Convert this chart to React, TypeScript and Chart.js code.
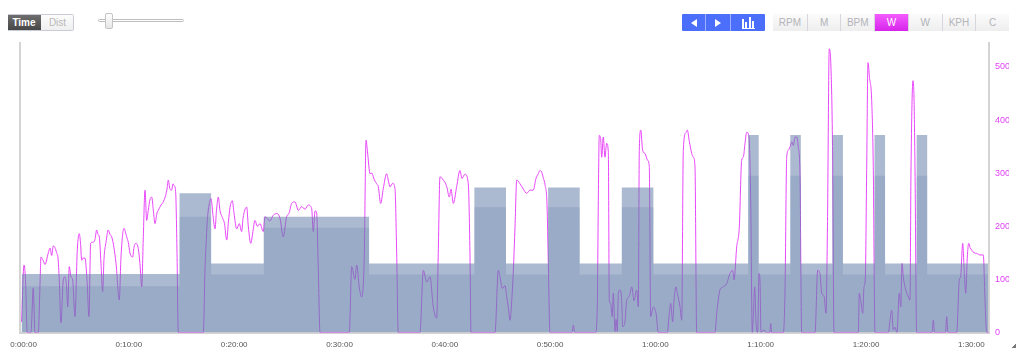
import React, { useEffect, useRef } from 'react';
import { Chart, registerables } from 'chart.js';

Chart.register(...registerables);

// Workout target intervals (minutes) and their target watt bands
const intervalStart = [0, 15, 18, 23, 33, 43, 46, 50, 53, 57, 60, 69, 70, 73, 74, 77, 78, 81, 82, 85, 86];
const intervalEnd = [15, 18, 23, 33, 43, 46, 50, 53, 57, 60, 69, 70, 73, 74, 77, 78, 81, 82, 85, 86, 91.8];
const targetHigh = [110, 262, 130, 218, 130, 273, 130, 273, 130, 273, 130, 372, 130, 372, 130, 372, 130, 372, 130, 372, 130];
const targetLow = [87, 218, 109, 197, 109, 236, 109, 236, 109, 236, 109, 295, 109, 295, 109, 295, 109, 295, 109, 295, 109];

// Recorded power (time in minutes, watts)
const powerMinutes = [
  0.0, 0.23, 0.37, 0.54, 0.89, 1.11, 1.27, 1.59, 1.75, 1.84, 2.06, 2.22, 2.54, 2.7, 2.86, 3.01, 3.17, 3.33, 3.46, 3.58,
  3.74, 3.96, 4.12, 4.28, 4.38, 4.53, 4.69, 4.85, 5.07, 5.29, 5.48, 5.59, 5.71, 5.83, 6.02, 6.21, 6.4, 6.56, 6.78, 6.97,
  7.13, 7.25, 7.38, 7.54, 7.7, 7.83, 8.02, 8.23, 8.39, 8.56, 8.77, 8.97, 9.28, 9.44, 9.72, 9.98, 10.13, 10.29, 10.55, 10.67,
  10.86, 11.08, 11.24, 11.41, 11.56, 11.72, 11.88, 12.03, 12.19, 12.36, 12.51, 12.67, 12.86, 12.98, 13.24, 13.43, 13.68, 13.81, 13.93, 14.09,
  14.25, 14.38, 14.47, 14.63, 14.76, 14.88, 17.26, 17.42, 17.51, 17.64, 17.8, 17.99, 18.18, 18.37, 18.51, 18.68, 18.84, 19.1, 19.27, 19.48,
  19.65, 19.79, 20.01, 20.17, 20.43, 20.67, 20.9, 21.03, 21.38, 21.53, 21.76, 21.97, 22.16, 22.4, 22.64, 22.95, 23.11, 23.3, 23.59, 23.87,
  24.23, 24.54, 24.85, 25.17, 25.39, 25.65, 25.96, 26.28, 26.6, 26.91, 27.23, 27.55, 27.7, 27.87, 28.02, 28.18, 28.34, 31.12, 31.35, 31.66,
  31.82, 32.07, 32.3, 32.45, 32.55, 32.71, 32.85, 33.09, 33.27, 33.4, 33.56, 33.72, 33.88, 34.1, 34.35, 34.67, 34.84, 34.99, 35.24, 35.46,
  35.62, 35.77, 37.83, 38.15, 38.47, 38.78, 39.1, 39.42, 39.57, 39.73, 40.05, 40.37, 40.62, 40.78, 41.0, 41.32, 41.63, 41.82, 42.11, 42.42,
  42.58, 42.68, 44.96, 45.27, 45.43, 45.65, 45.91, 46.07, 46.22, 46.38, 46.57, 46.7, 46.86, 47.02, 47.33, 47.65, 47.96, 48.28, 48.59, 48.85,
  49.07, 49.23, 49.39, 49.56, 49.71, 49.9, 50.02, 50.18, 52.27, 52.4, 52.53, 54.5, 54.67, 54.77, 54.86, 54.99, 55.09, 55.24, 55.4, 55.56,
  55.72, 55.81, 55.94, 56.09, 56.19, 56.36, 56.45, 56.57, 56.67, 56.83, 56.99, 57.08, 57.3, 57.46, 57.71, 57.94, 58.16, 58.41, 58.57, 58.66,
  58.8, 58.98, 59.2, 59.46, 59.61, 59.74, 59.99, 60.25, 60.47, 61.32, 61.51, 61.64, 61.83, 61.96, 62.15, 62.27, 62.53, 62.69, 62.84, 63.1,
  63.22, 63.41, 63.64, 63.8, 63.95, 64.11, 65.85, 66.01, 66.16, 66.32, 66.64, 66.96, 67.27, 67.53, 67.66, 67.91, 68.16, 68.38, 68.54, 68.7,
  68.86, 69.08, 69.24, 69.39, 69.49, 69.62, 69.74, 69.9, 70.03, 70.12, 70.22, 70.5, 70.69, 71.05, 71.14, 71.23, 72.34, 72.5, 72.66, 72.81,
  72.97, 73.13, 73.29, 73.45, 73.61, 73.76, 73.92, 74.08, 75.35, 75.6, 75.82, 75.98, 76.21, 76.39, 76.53, 76.7, 76.86, 77.01, 77.15, 79.46,
  79.55, 79.69, 79.88, 80.0, 80.12, 80.25, 80.38, 80.52, 80.73, 80.88, 81.04, 82.31, 82.47, 82.63, 82.78, 82.94, 83.13, 83.35, 83.49, 83.61,
  83.73, 83.89, 84.21, 84.37, 84.46, 84.65, 84.75, 84.84, 85.0, 86.46, 86.58, 86.7, 87.74, 87.85, 87.97, 88.8, 89.05, 89.18, 89.37, 89.53,
  89.66, 89.81, 89.94, 90.07, 90.23, 90.45, 90.7, 91.01, 91.33, 91.49, 91.65, 91.87,
];
const powerWatts = [
  20, 127, 100, 0, 0, 84, 0, 0, 90, 142, 135, 128, 150, 159, 145, 163, 160, 150, 140, 99,
  18, 99, 105, 84, 48, 124, 105, 99, 30, 155, 186, 170, 136, 140, 140, 100, 30, 168, 170, 175,
  193, 185, 180, 130, 77, 140, 170, 193, 185, 180, 160, 130, 61, 142, 196, 180, 170, 150, 142, 160,
  168, 158, 130, 86, 180, 268, 211, 230, 250, 255, 230, 205, 225, 230, 240, 245, 258, 270, 287, 270,
  268, 280, 277, 265, 150, 0, 0, 120, 161, 211, 240, 252, 220, 195, 230, 255, 230, 215, 205, 174,
  210, 235, 248, 225, 195, 205, 190, 215, 236, 200, 168, 190, 211, 200, 205, 190, 218, 215, 210, 220,
  224, 215, 180, 218, 224, 243, 246, 230, 237, 232, 240, 233, 190, 229, 225, 117, 0, 0, 124, 100,
  127, 85, 67, 90, 150, 362, 340, 299, 300, 293, 285, 280, 274, 243, 271, 299, 285, 274, 281, 271,
  150, 0, 0, 117, 95, 105, 48, 27, 149, 293, 287, 275, 255, 270, 243, 275, 305, 290, 298, 280,
  150, 0, 0, 117, 105, 83, 88, 67, 48, 23, 67, 117, 200, 287, 280, 270, 262, 268, 268, 290,
  299, 305, 302, 290, 278, 240, 130, 0, 0, 14, 0, 0, 48, 249, 371, 365, 330, 368, 330, 356,
  340, 61, 55, 30, 74, 2, 25, 2, 74, 80, 60, 11, 20, 60, 68, 86, 60, 80, 48, 343,
  381, 343, 337, 324, 312, 30, 48, 36, 0, 0, 36, 55, 20, 61, 86, 74, 48, 23, 343, 377,
  381, 360, 337, 330, 312, 0, 0, 36, 61, 80, 86, 92, 111, 117, 99, 161, 199, 324, 330, 356,
  377, 368, 249, 0, 30, 86, 20, 0, 111, 99, 0, 5, 0, 0, 17, 0, 0, 80, 330, 343,
  349, 359, 352, 368, 368, 349, 299, 0, 0, 117, 111, 74, 68, 36, 200, 534, 500, 350, 0, 0,
  74, 60, 36, 86, 99, 300, 508, 480, 437, 312, 0, 0, 23, 42, 5, 10, 0, 74, 48, 130,
  105, 86, 67, 61, 300, 474, 440, 312, 0, 0, 23, 0, 0, 30, 0, 0, 99, 105, 168, 111,
  74, 142, 168, 160, 155, 150, 149, 146, 146, 61, 0, 0,
];

const xTickMinutes = [0, 10, 20, 30, 40, 50, 60, 70, 80, 90];
const xTickLabels = ['0:00:00', '0:10:00', '0:20:00', '0:30:00', '0:40:00', '0:50:00', '1:00:00', '1:10:00', '1:20:00', '1:30:00'];
const yTickValues = [0, 100, 200, 300, 400, 500];
const metricButtons = ['RPM', 'M', 'BPM', 'W', 'W', 'KPH', 'C'];
const activeMetric = 3;

const FONT = '"Liberation Sans", Arial, Helvetica, sans-serif';

function stepPoints(levels: number[]) {
  const pts: { x: number; y: number }[] = [];
  intervalStart.forEach((s, i) => {
    pts.push({ x: s, y: levels[i] });
    pts.push({ x: intervalEnd[i], y: levels[i] });
  });
  return pts;
}

function ChartCanvas() {
  const ref = useRef<HTMLCanvasElement | null>(null);
  useEffect(() => {
    if (!ref.current) return;
    const chart = new Chart(ref.current, {
      type: 'line',
      data: {
        datasets: [
          {
            label: 'Target high',
            data: stepPoints(targetHigh),
            fill: 'origin',
            backgroundColor: 'rgba(100,125,170,0.54)',
            borderColor: 'rgba(0,0,0,0)',
            borderWidth: 0,
            pointRadius: 0,
            tension: 0,
          },
          {
            label: 'Target low',
            data: stepPoints(targetLow),
            fill: 'origin',
            backgroundColor: 'rgba(100,125,170,0.23)',
            borderColor: 'rgba(0,0,0,0)',
            borderWidth: 0,
            pointRadius: 0,
            tension: 0,
          },
          {
            label: 'Power',
            data: powerMinutes.map((m, i) => ({ x: m, y: powerWatts[i] })),
            borderColor: 'rgb(232,70,250)',
            borderWidth: 1,
            pointRadius: 0,
            fill: false,
            cubicInterpolationMode: 'monotone',
          },
        ],
      },
      options: {
        animation: false,
        responsive: false,
        layout: { padding: { left: 12, top: 7, right: 0, bottom: 0 } },
        plugins: { legend: { display: false }, tooltip: { enabled: false } },
        scales: {
          x: {
            type: 'linear',
            min: -0.15,
            max: 91.87,
            grid: { display: false, drawTicks: false },
            border: { display: true, color: '#d4d4d4', width: 2 },
            ticks: {
              autoSkip: false,
              maxRotation: 0,
              padding: 7,
              labelOffset: 2,
              color: '#555',
              font: { family: FONT, size: 8 },
              callback: (v: any) => {
                const i = xTickMinutes.indexOf(Number(v));
                return i >= 0 ? xTickLabels[i] : '';
              },
            },
            afterBuildTicks: (s: any) => {
              s.ticks = xTickMinutes.map((v) => ({ value: v }));
            },
            afterFit: (s: any) => {
              s.height = 23.5;
              s.paddingLeft = 0;
              s.paddingRight = 0;
            },
          },
          y: {
            position: 'right',
            min: 0,
            max: 545,
            grid: { display: false, drawTicks: false },
            border: { display: true, color: '#d4d4d4', width: 2 },
            ticks: {
              padding: 6,
              color: '#e040f5',
              font: { family: FONT, size: 9 },
            },
            afterBuildTicks: (s: any) => {
              s.ticks = yTickValues.map((v) => ({ value: v }));
            },
            afterFit: (s: any) => {
              s.width = 20;
              s.paddingTop = 0;
              s.paddingBottom = 0;
            },
          },
          yl: {
            position: 'left',
            min: 0,
            max: 545,
            grid: { display: false, drawTicks: false },
            border: { display: true, color: '#d4d4d4', width: 2 },
            ticks: { display: false },
            afterFit: (s: any) => {
              s.width = 0;
              s.paddingTop = 0;
              s.paddingBottom = 0;
            },
          },
        },
      },
    } as any);
    return () => chart.destroy();
  }, []);
  return <canvas ref={ref} width={1001} height={320} style={{ position: 'absolute', left: 0, top: 28, width: 1001, height: 320 }} />;
}

const btnBase: React.CSSProperties = {
  position: 'absolute',
  top: 0,
  height: '100%',
  display: 'flex',
  alignItems: 'center',
  justifyContent: 'center',
  fontSize: 10,
  boxSizing: 'border-box',
};

export default function App() {
  const metricW = 236 / metricButtons.length;
  return (
    <div style={{ position: 'relative', width: 1008, height: 340, fontFamily: FONT }}>
      {/* Time / Dist toggle */}
      <div style={{ position: 'absolute', left: -2, top: 6, width: 68, height: 17, border: '1px solid #c9ccd8', boxSizing: 'border-box', borderRadius: 2, overflow: 'hidden' }}>
        <div style={{ ...btnBase, left: 0, width: 34, background: 'linear-gradient(#6e6e6e, #474747)', color: '#fff', fontWeight: 'bold' }}>Time</div>
        <div style={{ ...btnBase, left: 34, width: 33, background: 'linear-gradient(#fcfcfc, #efefef)', color: '#b8b8b8' }}>Dist</div>
      </div>
      {/* slider */}
      <div style={{ position: 'absolute', left: 90, top: 11, width: 86, height: 3, border: '1px solid #bdbdbd', background: '#fff', borderRadius: 2, boxSizing: 'border-box' }} />
      <div style={{ position: 'absolute', left: 97, top: 5, width: 8, height: 16, border: '1px solid #c4c4c4', background: 'linear-gradient(#ffffff, #e6e6e6)', borderRadius: 2, boxSizing: 'border-box' }} />
      {/* blue navigation buttons */}
      <div style={{ position: 'absolute', left: 674, top: 6, width: 83, height: 17, background: '#4b6ffb', borderRadius: 1 }}>
        <div style={{ ...btnBase, left: 0, width: 23 }}>
          <div style={{ width: 0, height: 0, borderTop: '4px solid transparent', borderBottom: '4px solid transparent', borderRight: '6px solid #fff' }} />
        </div>
        <div style={{ ...btnBase, left: 23, width: 25, borderLeft: '1px solid rgba(255,255,255,0.45)' }}>
          <div style={{ width: 0, height: 0, borderTop: '4px solid transparent', borderBottom: '4px solid transparent', borderLeft: '6px solid #fff' }} />
        </div>
        <div style={{ ...btnBase, left: 48, width: 35, borderLeft: '1px solid rgba(255,255,255,0.45)' }}>
          <div style={{ position: 'relative', width: 13, height: 11 }}>
            <div style={{ position: 'absolute', left: 0, bottom: 0, width: 2, height: 9, background: '#fff' }} />
            <div style={{ position: 'absolute', left: 3.5, bottom: 0, width: 2, height: 6, background: '#fff' }} />
            <div style={{ position: 'absolute', left: 7, bottom: 0, width: 2, height: 11, background: '#fff' }} />
            <div style={{ position: 'absolute', left: 10.5, bottom: 0, width: 2, height: 7, background: '#fff' }} />
            <div style={{ position: 'absolute', left: 0, bottom: -1, width: 13, height: 1, background: '#fff' }} />
          </div>
        </div>
      </div>
      {/* metric buttons */}
      <div style={{ position: 'absolute', left: 765, top: 6, width: 236, height: 17, border: '1px solid #d6d6dc', boxSizing: 'border-box', borderRadius: 1 }}>
        {metricButtons.map((m, i) => (
          <div
            key={i}
            style={{
              ...btnBase,
              left: i * metricW - 1,
              width: metricW,
              top: -1,
              height: 17,
              borderLeft: i > 0 ? '1px solid #d6d6dc' : 'none',
              background: i === activeMetric ? 'linear-gradient(#f45cff, #d624ea)' : 'linear-gradient(#fbfbfb, #eeeeef)',
              color: i === activeMetric ? '#fff' : '#b3b3b8',
            }}
          >
            {m}
          </div>
        ))}
      </div>
      <ChartCanvas />
      {/* resize grip */}
      <div style={{ position: 'absolute', left: 1002, top: 335, width: 6, height: 6, background: 'linear-gradient(135deg, transparent 55%, #777 55%)' }} />
    </div>
  );
}
